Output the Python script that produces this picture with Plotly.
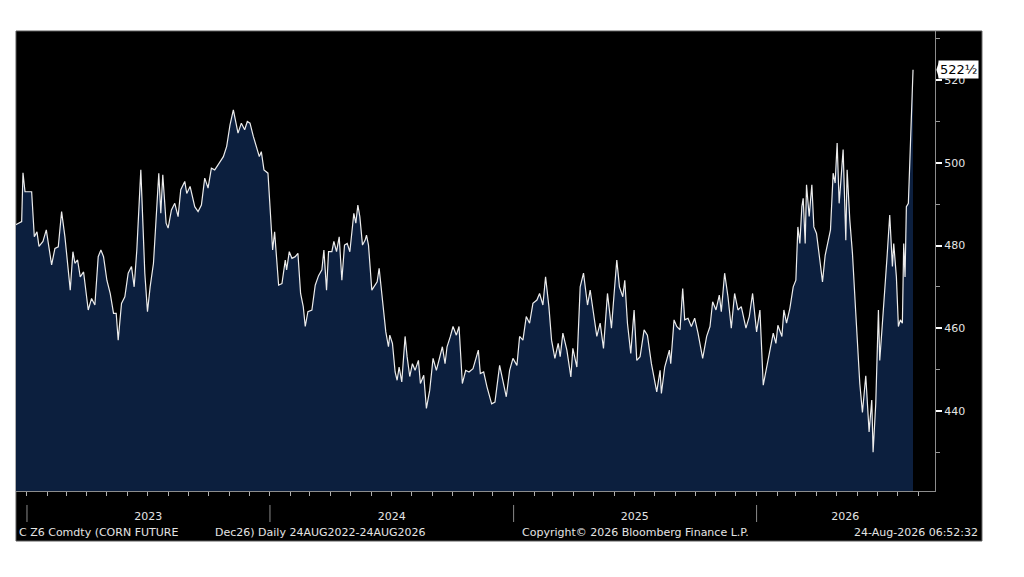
import plotly.graph_objects as go

# C Z6 Comdty - corn future Dec26, daily closes
dates = [
    "2022-12-15", "2022-12-24", "2022-12-26", "2022-12-29", "2023-01-08", "2023-01-12", "2023-01-16", "2023-01-19",
    "2023-01-25", "2023-01-30", "2023-02-07", "2023-02-12", "2023-02-17", "2023-02-22", "2023-02-27", "2023-03-03",
    "2023-03-07", "2023-03-11", "2023-03-14", "2023-03-18", "2023-03-22", "2023-03-27", "2023-04-03", "2023-04-08",
    "2023-04-13", "2023-04-18", "2023-04-22", "2023-04-26", "2023-05-01", "2023-05-06", "2023-05-11", "2023-05-15",
    "2023-05-18", "2023-05-23", "2023-05-28", "2023-06-02", "2023-06-07", "2023-06-11", "2023-06-15", "2023-06-21",
    "2023-06-25", "2023-06-27", "2023-07-01", "2023-07-05", "2023-07-10", "2023-07-15", "2023-07-18", "2023-07-21",
    "2023-07-24", "2023-07-29", "2023-08-01", "2023-08-06", "2023-08-11", "2023-08-16", "2023-08-20", "2023-08-26",
    "2023-08-29", "2023-09-03", "2023-09-10", "2023-09-15", "2023-09-20", "2023-09-25", "2023-09-30", "2023-10-05",
    "2023-10-10", "2023-10-15", "2023-10-23", "2023-10-28", "2023-11-02", "2023-11-07", "2023-11-11", "2023-11-14",
    "2023-11-19", "2023-11-24", "2023-11-28", "2023-12-02", "2023-12-07", "2023-12-12", "2023-12-16", "2023-12-19",
    "2023-12-23", "2023-12-29",
    "2024-01-05", "2024-01-08", "2024-01-14", "2024-01-19", "2024-01-24", "2024-01-26", "2024-01-30", "2024-02-03",
    "2024-02-08", "2024-02-12", "2024-02-16", "2024-02-20", "2024-02-23", "2024-02-27", "2024-03-04", "2024-03-09",
    "2024-03-14", "2024-03-19", "2024-03-22", "2024-03-26", "2024-03-29", "2024-04-03", "2024-04-06", "2024-04-10",
    "2024-04-14", "2024-04-18", "2024-04-22", "2024-04-26", "2024-04-30", "2024-05-06", "2024-05-09", "2024-05-12",
    "2024-05-15", "2024-05-19", "2024-05-23", "2024-05-25", "2024-05-28", "2024-06-02", "2024-06-07", "2024-06-10",
    "2024-06-13", "2024-06-17", "2024-06-20", "2024-06-23", "2024-06-27", "2024-06-29", "2024-07-03", "2024-07-07",
    "2024-07-10", "2024-07-13", "2024-07-17", "2024-07-22", "2024-07-25", "2024-07-29", "2024-08-02", "2024-08-06",
    "2024-08-11", "2024-08-14", "2024-08-19", "2024-08-23", "2024-08-28", "2024-09-02", "2024-09-07", "2024-09-12",
    "2024-09-16", "2024-09-20", "2024-09-23", "2024-09-28", "2024-10-02", "2024-10-07", "2024-10-11", "2024-10-16",
    "2024-10-21", "2024-10-26", "2024-11-01", "2024-11-09", "2024-11-12", "2024-11-17", "2024-11-22", "2024-11-29",
    "2024-12-04", "2024-12-11", "2024-12-15", "2024-12-21", "2024-12-26", "2024-12-31",
    "2025-01-06", "2025-01-10", "2025-01-15", "2025-01-20", "2025-01-25", "2025-01-30", "2025-02-05", "2025-02-09",
    "2025-02-14", "2025-02-18", "2025-02-23", "2025-02-27", "2025-03-04", "2025-03-09", "2025-03-12", "2025-03-16",
    "2025-03-22", "2025-03-28", "2025-03-31", "2025-04-06", "2025-04-11", "2025-04-16", "2025-04-22", "2025-04-26",
    "2025-05-01", "2025-05-06", "2025-05-11", "2025-05-16", "2025-05-22", "2025-05-28", "2025-06-01", "2025-06-05",
    "2025-06-09", "2025-06-14", "2025-06-17", "2025-06-21", "2025-06-26", "2025-07-01", "2025-07-05", "2025-07-10",
    "2025-07-16", "2025-07-21", "2025-07-27", "2025-08-04", "2025-08-09", "2025-08-11", "2025-08-16", "2025-08-23",
    "2025-08-25", "2025-08-30", "2025-09-03", "2025-09-08", "2025-09-12", "2025-09-15", "2025-09-20", "2025-09-25",
    "2025-09-30", "2025-10-05", "2025-10-12", "2025-10-18", "2025-10-23", "2025-10-27", "2025-11-01", "2025-11-06",
    "2025-11-09", "2025-11-14", "2025-11-19", "2025-11-24", "2025-11-29", "2025-12-04", "2025-12-09", "2025-12-16",
    "2025-12-21", "2025-12-26",
    "2026-01-01", "2026-01-06", "2026-01-11", "2026-01-16", "2026-01-21", "2026-01-26", "2026-01-30", "2026-02-02",
    "2026-02-08", "2026-02-11", "2026-02-15", "2026-02-20", "2026-02-25", "2026-03-01", "2026-03-04", "2026-03-07",
    "2026-03-10", "2026-03-12", "2026-03-15", "2026-03-17", "2026-03-21", "2026-03-25", "2026-03-28", "2026-04-01",
    "2026-04-06", "2026-04-10", "2026-04-14", "2026-04-19", "2026-04-22", "2026-04-26", "2026-04-29", "2026-05-02",
    "2026-05-05", "2026-05-07", "2026-05-11", "2026-05-15", "2026-05-17", "2026-05-21", "2026-05-25", "2026-05-30",
    "2026-06-05", "2026-06-09", "2026-06-14", "2026-06-19", "2026-06-23", "2026-06-25", "2026-06-29", "2026-07-03",
    "2026-07-05", "2026-07-09", "2026-07-13", "2026-07-16", "2026-07-20", "2026-07-24", "2026-07-26", "2026-07-30",
    "2026-08-02", "2026-08-05", "2026-08-08", "2026-08-10", "2026-08-12", "2026-08-14", "2026-08-17", "2026-08-24",
]

prices = [
    485.0, 485.8, 497.6, 493.0, 493.0, 482.1, 483.3, 479.8,
    481.0, 483.8, 475.3, 479.3, 479.7, 488.2, 482.1, 475.7,
    469.2, 478.5, 475.7, 476.5, 472.4, 473.6, 464.4, 467.2,
    465.6, 477.3, 478.9, 477.3, 471.6, 468.4, 463.6, 463.6,
    457.1, 466.0, 467.6, 473.3, 474.9, 470.0, 478.9, 498.3,
    480.5, 473.3, 464.0, 470.0, 475.7, 487.8, 497.5, 487.8,
    497.1, 485.4, 484.2, 488.6, 490.2, 487.0, 493.5, 495.5,
    492.6, 494.3, 489.4, 488.2, 489.8, 496.3, 493.9, 498.7,
    498.3, 499.5, 501.5, 504.0, 509.2, 512.8, 509.2, 507.2,
    509.6, 508.0, 510.0, 509.6, 506.4, 503.6, 501.5, 502.7,
    498.3, 497.5,
    478.9, 483.3, 470.4, 470.8, 476.5, 474.1, 478.5, 476.9,
    477.3, 478.1, 468.4, 465.2, 460.4, 464.0, 464.4, 470.4,
    472.7, 474.1, 478.9, 469.2, 478.5, 478.5, 481.0, 478.5,
    482.1, 471.6, 480.1, 480.5, 478.5, 487.8, 485.4, 489.8,
    487.0, 480.1, 481.3, 482.5, 480.1, 469.2, 470.4, 471.2,
    474.5, 467.6, 463.6, 459.1, 455.5, 458.3, 456.3, 449.4,
    447.4, 450.6, 447.0, 458.0, 453.1, 448.3, 451.4, 449.8,
    452.2, 446.6, 448.6, 440.6, 445.0, 452.7, 449.8, 453.1,
    455.5, 451.4, 455.5, 458.0, 460.4, 458.3, 460.4, 446.6,
    449.8, 449.4, 450.2, 454.7, 449.0, 449.4, 445.8, 441.7,
    442.1, 451.0, 448.2, 443.4, 449.8, 452.7,
    451.0, 458.0, 457.1, 462.8, 461.2, 466.0, 466.8, 468.4,
    465.6, 472.4, 465.2, 457.1, 452.7, 456.3, 453.1, 458.8,
    454.7, 448.2, 455.1, 450.6, 470.0, 473.3, 465.6, 469.2,
    463.6, 458.0, 461.2, 455.1, 468.4, 460.0, 468.4, 476.5,
    470.0, 467.6, 471.6, 461.2, 453.9, 464.4, 452.2, 453.1,
    459.6, 458.3, 451.4, 444.6, 449.8, 444.2, 450.6, 454.7,
    451.4, 462.0, 460.4, 459.6, 469.6, 462.0, 462.4, 460.4,
    462.4, 458.8, 452.7, 458.0, 460.4, 466.4, 464.4, 468.0,
    464.0, 473.3, 467.6, 460.0, 468.4, 464.4, 465.2, 460.0,
    462.8, 468.4,
    459.1, 464.4, 446.2, 450.2, 455.1, 458.8, 456.3, 460.7,
    458.0, 464.4, 461.2, 464.8, 470.0, 471.6, 484.5, 480.5,
    489.4, 491.4, 480.5, 494.7, 487.0, 494.7, 484.5, 482.9,
    476.5, 471.2, 477.6, 481.3, 483.8, 497.5, 495.1, 504.8,
    490.2, 494.3, 503.2, 481.3, 498.3, 486.2, 478.1, 463.6,
    446.6, 439.6, 448.5, 434.9, 442.6, 430.0, 441.7, 464.4,
    452.2, 461.2, 469.2, 477.3, 487.4, 474.9, 480.5, 472.4,
    460.4, 462.0, 461.2, 480.5, 472.4, 489.4, 490.2, 522.5,
]

last_label = "522½"
price_ticks = [440, 460, 480, 500, 520]
price_minor = [430, 450, 470, 490, 510, 530]
year_labels = ["2023", "2024", "2025", "2026"]
year_label_pos = ["2023-07-02", "2024-07-02", "2025-07-02", "2026-05-14"]
year_starts = ["2023-01-01", "2024-01-01", "2025-01-01", "2026-01-01"]

FONT = "DejaVu Sans"
TXT = "#e4e4e4"
AXIS = "#8c8c8c"

fig = go.Figure()

# area under the price line (navy) with the white price line on top
fig.add_trace(go.Scatter(
    x=dates, y=prices, mode="lines",
    line=dict(color="#ececec", width=1.2),
    fill="tozeroy", fillcolor="#0c1f3e",
    hoverinfo="x+y", showlegend=False,
))

# black terminal panel behind everything
fig.add_shape(type="rect", xref="paper", yref="paper",
              x0=0, x1=1.0511, y0=-0.1087, y1=1,
              fillcolor="black", line=dict(color="#5a5a5a", width=1), layer="below")

# year separators under the x axis
for ys in year_starts:
    fig.add_shape(type="line", xref="x", yref="paper", x0=ys, x1=ys,
                  y0=-0.0674, y1=-0.0304, line=dict(color="#8a8a8a", width=1))

# last price tag on the right axis
fig.add_annotation(xref="paper", yref="y", x=1.0038, y=prices[-1],
                   text=last_label, showarrow=False, xanchor="left", yanchor="middle",
                   font=dict(family=FONT, size=13, color="black"),
                   bgcolor="white", borderpad=1)
fig.add_shape(type="path", xref="paper", yref="y",
              path="M 1.0015,522.5 L 1.0045,524.6 L 1.0045,520.4 Z",
              fillcolor="white", line=dict(color="white", width=0))

# footer
foot = dict(family=FONT, size=11, color=TXT)
fig.add_annotation(xref="paper", yref="paper", x=0.001, y=-0.0913, text="C Z6 Comdty (CORN FUTURE",
                   showarrow=False, xanchor="left", yanchor="middle", font=foot)
fig.add_annotation(xref="paper", yref="paper", x=(213 - 16) / 919, y=-0.0913,
                   text="Dec26) Daily 24AUG2022-24AUG2026",
                   showarrow=False, xanchor="left", yanchor="middle", font=foot)
fig.add_annotation(xref="paper", yref="paper", x=(520 - 16) / 919, y=-0.0913,
                   text="Copyright© 2026 Bloomberg Finance L.P.",
                   showarrow=False, xanchor="left", yanchor="middle", font=foot)
fig.add_annotation(xref="paper", yref="paper", x=(980 - 16) / 919, y=-0.0913,
                   text="24-Aug-2026 06:52:32",
                   showarrow=False, xanchor="right", yanchor="middle", font=foot)

# the html page has an 8px body margin, so margins are shifted to keep the plot in place
fig.update_layout(
    width=1024, height=577,
    margin=dict(l=8, r=97, t=23, b=94),
    paper_bgcolor="white", plot_bgcolor="black",
    font=dict(family=FONT, size=11, color=TXT),
    showlegend=False,
    xaxis=dict(
        type="date", range=["2022-12-15 12:00", "2026-09-26"],
        showgrid=False, zeroline=False,
        showline=True, linecolor=AXIS, linewidth=1,
        tickmode="array", tickvals=year_label_pos, ticktext=year_labels,
        ticks="", tickfont=dict(family=FONT, size=11, color=TXT),
        ticklabelstandoff=15,
        minor=dict(ticks="outside", ticklen=4, tickcolor="#b0b0b0", tickwidth=1,
                   tickmode="linear", tick0="2023-01-01", dtick="M1", showgrid=False),
    ),
    yaxis=dict(
        side="right", range=[420.6, 531.9],
        showgrid=False, zeroline=False,
        showline=True, linecolor=AXIS, linewidth=1,
        tickmode="array", tickvals=price_ticks,
        ticks="outside", ticklen=6, tickwidth=2, tickcolor="white",
        tickfont=dict(family=FONT, size=11, color=TXT),
        minor=dict(tickmode="array", tickvals=price_minor, ticks="outside",
                   ticklen=4, tickcolor="#9a9a9a", tickwidth=1, showgrid=False),
    ),
)

fig.write_html("out.html")
